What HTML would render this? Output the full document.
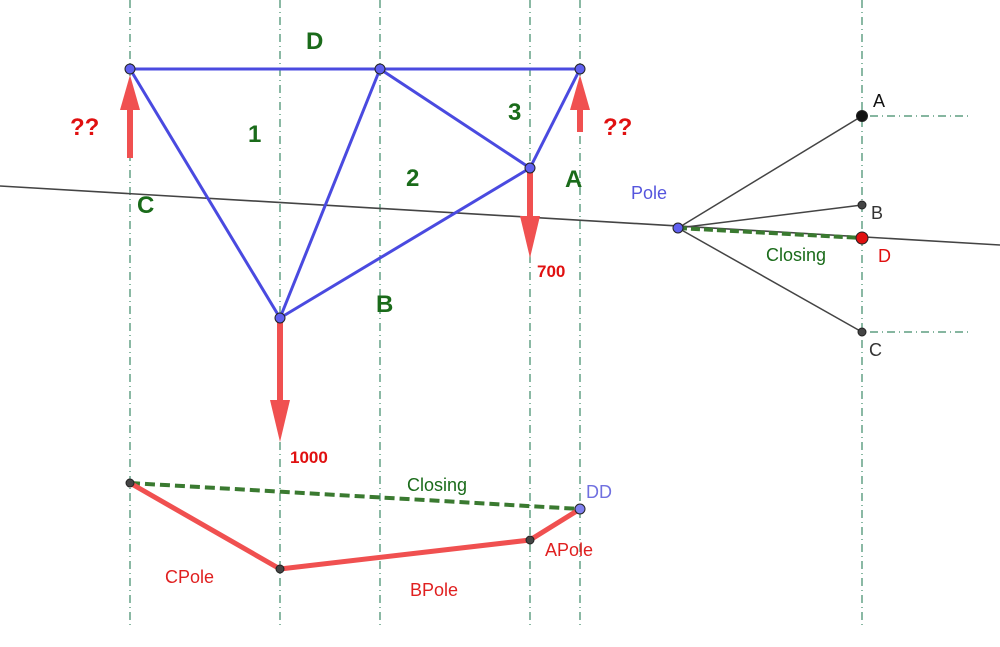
<!DOCTYPE html>
<html><head><meta charset="utf-8"><style>body{margin:0;background:#fff}svg{display:block}</style></head><body>
<svg width="1000" height="647" viewBox="0 0 1000 647" xmlns="http://www.w3.org/2000/svg" font-family="Liberation Sans, sans-serif">
<g stroke="#3d8a68" stroke-width="1.2" stroke-dasharray="8,4,1,4" fill="none">
<line x1="130" y1="0" x2="130" y2="627"/><line x1="280" y1="0" x2="280" y2="627"/>
<line x1="380" y1="0" x2="380" y2="627"/><line x1="530" y1="0" x2="530" y2="627"/>
<line x1="580" y1="0" x2="580" y2="627"/><line x1="862" y1="0" x2="862" y2="627"/>
<line x1="870" y1="116" x2="970" y2="116"/><line x1="870" y1="332" x2="970" y2="332"/>
</g>
<line x1="0" y1="186" x2="1000" y2="245" stroke="#444" stroke-width="1.6"/>
<g stroke="#4a4ae0" stroke-width="3" fill="none" stroke-linejoin="round">
<line x1="130" y1="69" x2="580" y2="69"/>
<line x1="130" y1="69" x2="280" y2="318"/><line x1="280" y1="318" x2="380" y2="69"/>
<line x1="380" y1="69" x2="530" y2="168"/><line x1="530" y1="168" x2="580" y2="69"/>
<line x1="280" y1="318" x2="530" y2="168"/>
</g>
<g fill="#f05050" stroke="none">
<rect x="127" y="108" width="6" height="50"/><polygon points="120,110 140,110 130,75"/>
<rect x="577" y="108" width="6" height="24"/><polygon points="570,110 590,110 580,75"/>
<rect x="527" y="170" width="6" height="48"/><polygon points="520,216 540,216 530,258"/>
<rect x="277" y="320" width="6" height="82"/><polygon points="270,400 290,400 280,442"/>
</g>
<g stroke="#444" stroke-width="1.5">
<line x1="678" y1="228" x2="862" y2="116"/><line x1="678" y1="228" x2="862" y2="205"/>
<line x1="678" y1="228" x2="862" y2="332"/>
</g>
<line x1="678" y1="228" x2="862" y2="238" stroke="#3a7a30" stroke-width="4" stroke-dasharray="9,4"/>
<line x1="130" y1="483" x2="580" y2="509" stroke="#3a7a30" stroke-width="4" stroke-dasharray="10,5"/>
<polyline points="130,483 280,569 530,540 580,509" fill="none" stroke="#f05050" stroke-width="5" stroke-linejoin="round"/>
<g stroke="#222" stroke-width="1">
<circle cx="130" cy="69" r="5" fill="#6060f0"/><circle cx="380" cy="69" r="5" fill="#6060f0"/>
<circle cx="580" cy="69" r="5" fill="#6060f0"/><circle cx="530" cy="168" r="5" fill="#6060f0"/>
<circle cx="280" cy="318" r="5" fill="#6060f0"/><circle cx="678" cy="228" r="5" fill="#6060f0"/>
<circle cx="862" cy="116" r="5.5" fill="#111"/><circle cx="862" cy="205" r="4" fill="#444"/>
<circle cx="862" cy="332" r="4" fill="#444"/><circle cx="862" cy="238" r="6" fill="#e01010"/>
<circle cx="130" cy="483" r="4" fill="#444"/><circle cx="280" cy="569" r="4" fill="#444"/>
<circle cx="530" cy="540" r="4" fill="#444"/><circle cx="580" cy="509" r="5" fill="#8080f0"/>
</g>
<g fill="#1a6b1a" font-weight="bold" font-size="24">
<text x="306" y="49">D</text><text x="248" y="142">1</text><text x="406" y="186">2</text>
<text x="508" y="120">3</text><text x="565" y="187">A</text><text x="137" y="213">C</text>
<text x="376" y="312">B</text>
</g>
<g fill="#e01010" font-weight="bold">
<text x="70" y="135" font-size="24">??</text><text x="603" y="135" font-size="24">??</text>
<text x="537" y="277" font-size="17">700</text><text x="290" y="463" font-size="17">1000</text>
</g>
<g font-size="18">
<text x="631" y="199" fill="#5555dd">Pole</text>
<text x="766" y="261" fill="#1a6b1a">Closing</text>
<text x="878" y="262" fill="#e01010">D</text>
<text x="873" y="107" fill="#111">A</text><text x="871" y="219" fill="#333">B</text>
<text x="869" y="356" fill="#333">C</text>
<text x="407" y="491" fill="#1a6b1a">Closing</text>
<text x="586" y="498" fill="#7070e0">DD</text>
<text x="545" y="556" fill="#e02020">APole</text>
<text x="165" y="583" fill="#e02020">CPole</text>
<text x="410" y="596" fill="#e02020">BPole</text>
</g>
</svg>
</body></html>
